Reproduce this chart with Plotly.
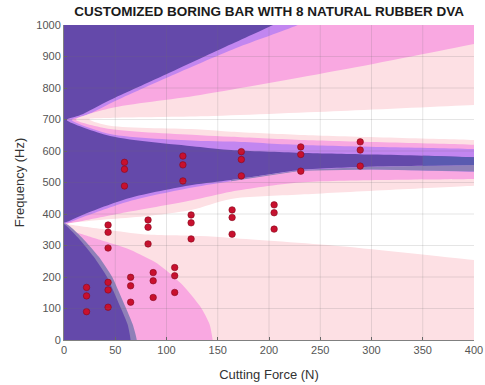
import plotly.graph_objects as go

# ---- measured test points: cutting force (N) vs chatter frequency (Hz) ----
force = [22, 22, 22, 43, 43, 43, 43, 43, 43, 59, 59, 59, 65, 65, 65,
         82, 82, 82, 87, 87, 87, 108, 108, 108, 116, 116, 116, 124, 124, 124,
         164, 164, 164, 173, 173, 173, 205, 205, 205, 231, 231, 231, 289, 289, 289]
freq = [167, 140, 90, 183, 159, 104, 365, 342, 292, 564, 542, 489, 199, 172, 120,
        381, 358, 305, 214, 188, 135, 230, 204, 151, 584, 556, 505, 397, 372, 321,
        413, 389, 336, 598, 573, 521, 429, 404, 352, 613, 589, 536, 629, 603, 552]

x_ticks = [0, 50, 100, 150, 200, 250, 300, 350, 400]
y_ticks = [0, 100, 200, 300, 400, 500, 600, 700, 800, 900, 1000]

# ---- stability-map region boundaries (force, frequency) ----
# upper lobe (tip near 700 Hz)
up_dark_edge = [(3, 700), (16, 714), (45, 762), (94, 835), (155, 927), (204, 1000), (232, 1045)]
up_violet_edge = [(8, 700), (22, 714), (52, 762), (102, 835), (168, 927), (228, 1000), (256, 1045)]
up_pink_edge = [(12, 702), (45, 736), (133, 778), (270, 857), (400, 940), (440, 965)]
up_white_edge = [(25, 702), (45, 705), (133, 710), (270, 727), (400, 746), (440, 752)]
lo_white_edge = [(25, 699), (45, 680), (133, 668), (163, 661), (231, 651), (400, 635), (440, 631)]
lo_lpink_edge = [(12, 698), (45, 670), (133, 650), (163, 645), (231, 635), (400, 620), (440, 616)]
lo_pink_edge = [(8, 697), (45, 654), (133, 632), (163, 630), (231, 619), (400, 606), (440, 603)]
lo_violet_edge = [(3, 697), (45, 648), (133, 613), (163, 603), (231, 594), (300, 589), (350, 585), (400, 580), (440, 577)]

# lower lobe (tip near 370 Hz)
band_dark_edge = [(0, 372), (18, 397), (63, 450), (125, 492), (163, 508), (231, 540), (300, 550), (350, 553), (400, 556), (440, 558)]
band_violet_edge = [(2, 371), (18, 390), (63, 440), (125, 484), (163, 504), (231, 537), (300, 541), (350, 538), (400, 534), (440, 532)]
band_pink_edge = [(4, 370), (18, 378), (63, 407), (125, 444), (163, 471), (231, 500), (400, 511), (440, 513)]
wedge_top = [(4, 369), (42, 383), (79, 393), (124, 413), (163, 448), (231, 462), (400, 490), (440, 496)]
wedge_bottom = [(4, 368), (42, 350), (79, 335), (133, 330), (163, 324), (270, 298), (400, 254), (440, 240)]
pink_lobe = [(3, 366), (10, 345), (35, 318), (65, 286), (91, 243), (114, 180), (133, 106), (142, 50), (145, 0), (145, -40)]
gray_lobe = [(0, 372), (6, 360), (19, 320), (34, 264), (47, 200), (57, 127), (67, 50), (71, 0), (71, -40)]
dark_lobe = [(0, 368), (3, 360), (15, 320), (29, 264), (42, 200), (52, 127), (62, 50), (65, 0), (65, -40)]

DARK = "#6449aa"
VIOLET = "#c286f0"
PINK = "#f9a8e1"
LPINK = "#fde0e4"
GRAY = "#8f80b8"
BLUE = "#5a5ab0"


def area(pts, color, smooth=0.8):
    xs = [p[0] for p in pts] + [pts[0][0]]
    ys = [p[1] for p in pts] + [pts[0][1]]
    shape = "spline" if smooth else "linear"
    line = dict(width=0, color=color, shape=shape)
    if smooth:
        line["smoothing"] = smooth
    return go.Scatter(x=xs, y=ys, mode="lines", fill="toself", fillcolor=color,
                      line=line, hoverinfo="skip", showlegend=False)


fig = go.Figure()

# upper lobe layers, outermost first
top_route = [(300, 1090), (480, 1090), (480, 700)]
fig.add_trace(area(up_dark_edge + top_route + lo_violet_edge[::-1], VIOLET))
fig.add_trace(area(up_violet_edge + top_route + lo_pink_edge[::-1], PINK))
fig.add_trace(area(up_pink_edge + [(480, 1000), (480, 700)] + lo_lpink_edge[::-1], LPINK))
fig.add_trace(area(up_white_edge + [(470, 700)] + lo_white_edge[::-1], "#ffffff"))

# lower lobe layers
bottom_route = [(480, 400), (480, -80), (-50, -80), (-50, 340)]
fig.add_trace(area(band_dark_edge + bottom_route, VIOLET))
fig.add_trace(area(band_violet_edge + bottom_route, PINK))
fig.add_trace(area([p for p in band_dark_edge if p[0] >= 163] +
                   [p for p in band_violet_edge if p[0] >= 163][::-1], GRAY, smooth=0))
fig.add_trace(area([p for p in lo_violet_edge if p[0] >= 350] +
                   [p for p in band_dark_edge if p[0] >= 350][::-1], BLUE, smooth=0))
fig.add_trace(area(band_pink_edge + bottom_route, LPINK))
fig.add_trace(area(wedge_top + [(470, 380)] + wedge_bottom[::-1], "#ffffff"))
fig.add_trace(area(pink_lobe + [(-50, -40), (-50, 366)], PINK, smooth=0.6))
fig.add_trace(area(gray_lobe + [(-50, -40), (-50, 372)], GRAY, smooth=0.6))
fig.add_trace(area(dark_lobe + [(-50, -40), (-50, 368)], DARK, smooth=0.6))

# test points
fig.add_trace(go.Scatter(x=force, y=freq, mode="markers",
                         marker=dict(size=6.5, color="#c8102e", line=dict(width=0.6, color="#85091c")),
                         showlegend=False, hoverinfo="skip"))

# grid drawn over the filled regions
grid = "rgba(110,110,110,0.18)"
shapes = []
for xv in x_ticks[1:-1]:
    shapes.append(dict(type="line", xref="x", yref="y", x0=xv, x1=xv, y0=0, y1=1000,
                       line=dict(color=grid, width=1), layer="above"))
for yv in y_ticks[1:-1]:
    shapes.append(dict(type="line", xref="x", yref="y", x0=0, x1=400, y0=yv, y1=yv,
                       line=dict(color=grid, width=1), layer="above"))

fig.update_layout(
    width=485, height=385,
    margin=dict(l=64, r=11, t=25, b=45, autoexpand=False),
    paper_bgcolor="white", plot_bgcolor=DARK,
    shapes=shapes,
    title=dict(text="<b>CUSTOMIZED BORING BAR WITH 8 NATURAL RUBBER DVA</b>",
               x=0.555, xanchor="center", y=0.971, yanchor="middle",
               font=dict(family="Arial, Liberation Sans", size=13.5, color="#1a1a1a")),
    font=dict(family="Arial, Liberation Sans", size=11, color="#555555"),
)
fig.update_xaxes(range=[0, 400], tickvals=x_ticks, showgrid=False, zeroline=False,
                 ticks="inside", ticklen=3, tickcolor="#666666", automargin=False,
                 showline=True, linecolor="#808080", linewidth=1, layer="above traces",
                 title=dict(text="Cutting Force (N)", standoff=14,
                            font=dict(size=13, color="#333333")))
fig.update_yaxes(range=[0, 1000], tickvals=y_ticks, showgrid=False, zeroline=False,
                 ticks="inside", ticklen=3, tickcolor="#666666", automargin=False,
                 showline=True, linecolor="#808080", linewidth=1, layer="above traces",
                 title=dict(text="Frequency (Hz)", standoff=8,
                            font=dict(size=13, color="#333333")))

fig.write_html("out.html")
